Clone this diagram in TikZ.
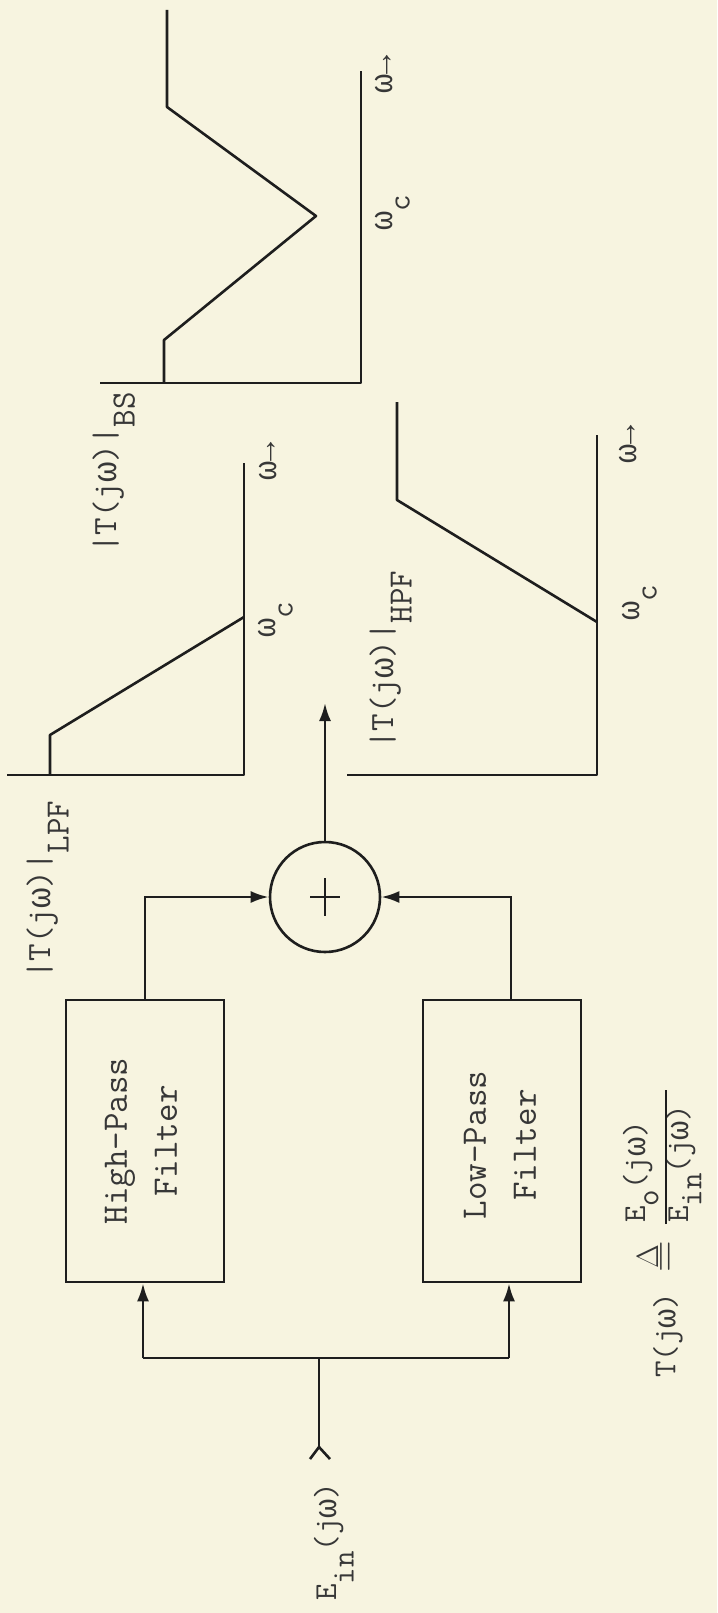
\RequirePackage{fix-cm}
\documentclass[tikz,border=0pt]{standalone}
\usepackage{fontspec}
\newfontfamily\gk{Liberation Mono}
\usetikzlibrary{arrows.meta}
\definecolor{paper}{RGB}{247,244,224}
\definecolor{ink}{RGB}{30,30,30}
\definecolor{tink}{RGB}{55,55,55}
\newcommand\lowsub[1]{\raisebox{-0.55em}{#1}}
\newcommand\fsub[1]{\raisebox{-0.42em}{#1}}
\newcommand\om{{\gk ω}}
\newcommand\omarr{{\gk ω→}}
\begin{document}
\begin{tikzpicture}[x=1pt,y=-1pt,
  wire/.style={draw=ink, line width=2.6pt},
  arr/.style={wire, -{Latex[length=18pt,width=12pt]}},
  box/.style={draw=ink, line width=2.6pt, rectangle, minimum width=158pt, minimum height=282pt, inner sep=0pt},
  boxtxt/.style={rotate=90, align=center, font=\fontsize{36}{50}\selectfont\ttfamily, text=tink},
  lbl/.style={rotate=90, font=\fontsize{32}{38}\selectfont\ttfamily, text=tink, inner sep=0pt},
  tlbl/.style={lbl, font=\fontsize{34}{38}\selectfont\ttfamily},
  curve/.style={draw=ink, line width=2.6pt, line join=round}]
\fill[paper] (0,0) rectangle (717,1613);
\useasboundingbox (0,0) rectangle (717,1613);

% blocks
\node[box] (hpf) at (145,1141) {};
\node[boxtxt] (hpft) at (141,1141) {High-Pass\\Filter};
\node[box] (lpf) at (502,1141) {};
\node[boxtxt] (lpft) at (500,1145) {Low-Pass\\Filter};
\node[draw=ink, line width=2.6pt, circle, minimum size=110pt, inner sep=0pt] (sum) at (325,897) {};
\draw[ink, line width=2.2pt] (sum.center) ++(-15,0) -- ++(30,0);
\draw[ink, line width=2.2pt] (sum.center) ++(0,-19) -- ++(0,38);

% input side
\coordinate (split) at (319,1358);
\coordinate (inL) at (143,1358);
\coordinate (inR) at (509,1358);
\coordinate (term) at (319,1447);
\coordinate (lpfx) at (511,0);
\coordinate (out) at (325,703);
\draw[wire] (inL) -- (inR);
\draw[arr] (inL) -- (inL |- hpf.south);
\draw[arr] (inR) -- (inR |- lpf.south);
\draw[wire] (term) -- (split);
\draw[wire, line join=miter] (310,1459) -- (term) -- (330,1459);
\node[lbl, anchor=base west] (ein) at (336,1601) {E\lowsub{in}(j\om)};

% to summer and output
\draw[arr] (hpf.north) |- (sum.west);
\draw[arr] (lpf.north -| lpfx) |- (sum.east);
\draw[arr] (sum.north) -- (out);

% LPF plot
\draw[curve] (7,775) -- (244,775) -- (244,463);
\draw[curve] (50,775) -- (50,735) -- (244,617);
\node[tlbl, anchor=base west] (llpf) at (50,979) {|T(j\om)|\lowsub{LPF}};
\node[lbl, anchor=base west] (wcl) at (275,638) {\om\lowsub{c}};
\node[lbl, anchor=base west] (wal) at (276,481) {\omarr};

% HPF plot
\draw[curve] (347,775) -- (597,775) -- (597,435);
\draw[curve] (397,402) -- (397,500) -- (597,622);
\node[tlbl, anchor=base west] (lhpf) at (393,749) {|T(j\om)|\lowsub{HPF}};
\node[lbl, anchor=base west] (wch) at (639,621) {\om\lowsub{c}};
\node[lbl, anchor=base west] (wah) at (636,464) {\omarr};

% BS plot
\draw[curve] (100,383) -- (361,383) -- (361,71);
\draw[curve] (164,383) -- (164,340) -- (316,216) -- (167,107) -- (167,10);
\node[tlbl, anchor=base west] (lbs) at (116,553) {|T(j\om)|\lowsub{BS}};
\node[lbl, anchor=base west] (wcb) at (392,231) {\om\lowsub{c}};
\node[lbl, anchor=base west] (wab) at (392,94) {\omarr};

% definition
\node[lbl, anchor=west] (tdef) at (668,1378) {T(j\om)};
\node[lbl, font=\fontsize{44}{48}\selectfont] (deq) at (656,1257) {$\stackrel{\Delta}{=}$};
\node[lbl, anchor=base west] (num) at (645,1223) {E\fsub{o}(j\om)};
\node[lbl, anchor=base west] (den) at (688,1223) {E\fsub{in}(j\om)};
\draw[ink, line width=1.8pt] (666,1224) -- (666,1090);
\end{tikzpicture}
\end{document}
